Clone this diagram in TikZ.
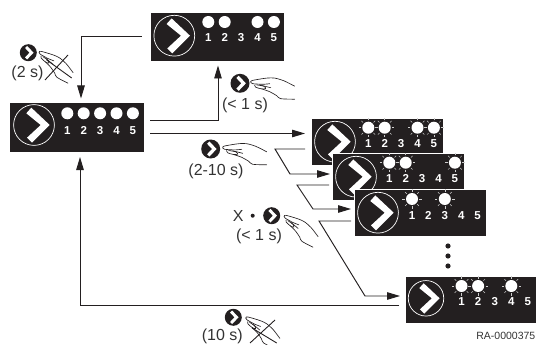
\documentclass[tikz,border=0pt]{standalone}
\usepackage{fontspec}
\setmainfont{Liberation Sans}
\usetikzlibrary{arrows.meta,calc}
\definecolor{ink}{HTML}{231F20}
\definecolor{txt}{HTML}{333333}
\tikzset{
  panelbox/.style={anchor=north west,fill=ink,draw=white,line width=.5pt,inner sep=0pt,outer sep=0pt},
  digit/.style={text=white,font=\fontsize{11.5}{11.5}\selectfont\bfseries,inner sep=0pt,anchor=base},
  led/.style={fill=white,draw=none},
  rayline/.style={draw=white!80!black,line width=.5pt},
  conn/.style={draw=ink,line width=.95pt},
  connarrow/.style={conn,-{Triangle[length=13pt,width=7.5pt]}},
  label/.style={text=txt,font=\fontsize{16}{16}\selectfont,inner sep=0pt},
  btn/.style={circle,fill=ink,draw=none,inner sep=0pt,outer sep=0pt},
  handline/.style={draw=ink,line width=.65pt,line cap=round,line join=round},
  crossline/.style={draw=ink,line width=.9pt}
}
\newcommand\dial[3]{%
  \begin{scope}[shift={(#1,#2)},scale=#3]
    \draw[white,line width=.7pt] (0,0) circle (20.4);
    \fill[white] (-7.7,-11.7) -- (-2.7,-17.3) -- (15.7,0) -- (-2,17.7) -- (-7,12.7) -- (6.7,0) -- cycle;
  \end{scope}}
\newcommand\lamps[6]{%
  \foreach \i in {1,...,5}{%
    \pgfmathsetmacro\px{#1+(\i-1)*#4}%
    \pgfmathsetmacro\py{#3+4}%
    \node[digit] at (\px,\py) {\i};}%
  \foreach \i in {#6}{%
    \pgfmathsetmacro\px{#1+(\i-1)*#4}%
    \fill[led] (\px,#2) circle (6);}%
  \foreach \i in {#5}{%
    \pgfmathsetmacro\px{#1+(\i-1)*#4}%
    \fill[led] (\px,#2) circle (6);
    \foreach \a in {0,45,...,315}{\draw[rayline] (\px,#2) ++(\a:7.4) -- ++(\a:2.3);}}%
}
\newcommand\glyph[3]{%
  \node[btn,minimum size=#3*2pt] (#1) at (#2) {};
  \fill[white] ($(#1)+(-.38*#3,-.55*#3)$) -- ($(#1)+(-.14*#3,-.8*#3)$) -- ($(#1)+(.62*#3,0)$) -- ($(#1)+(-.14*#3,.8*#3)$) -- ($(#1)+(-.38*#3,.55*#3)$) -- ($(#1)+(.14*#3,0)$) -- cycle;
}
\newcommand\hand[4]{%
  \begin{scope}[shift={(#1,#2)},rotate=#3,scale=#4]
    \draw[handline] plot[smooth] coordinates {(.3,1) (0,-.3) (1.5,-1.2) (9,-2.6) (17,-3.7) (24,-3.6) (33,-1) (44,4.5)};
    \draw[handline] plot[smooth] coordinates {(.3,1) (2,2) (12,2.6) (19,2)};
    \draw[handline] plot[smooth] coordinates {(4,3.2) (5,5.5) (11,7.2) (15,6.8) (13,4.5) (6,3.2)};
    \draw[handline] plot[smooth] coordinates {(11,7.2) (19,10) (26,14) (30,17) (44,17.5)};
    \draw[handline] plot[smooth] coordinates {(10,3.5) (16,5) (20,6)};
  \end{scope}}
\begin{document}
\begin{tikzpicture}[x=1pt,y=-1pt]
\useasboundingbox (0,0) rectangle (536,345);

\node[panelbox,minimum width=134pt,minimum height=49pt] (top) at (150,12) {};
\begin{scope}[shift={(top.north west)}]
  \dial{24.3}{23.7}{1}\lamps{58.3}{10}{26}{16.4}{}{1,2,4,5}
\end{scope}
\node[panelbox,minimum width=135pt,minimum height=50pt] (main) at (9,102) {};
\begin{scope}[shift={(main.north west)}]
  \dial{25}{23}{1}\lamps{58.3}{11.3}{28}{16.4}{}{1,2,3,4,5}
\end{scope}
\node[panelbox,minimum width=132.5pt,minimum height=47pt] (s1) at (311,118) {};
\begin{scope}[shift={(s1.north west)}]
  \dial{24}{23.7}{1}\lamps{57.3}{9.7}{25.3}{16.4}{1,2,4,5}{}
\end{scope}
\node[panelbox,minimum width=132.5pt,minimum height=47pt] (s2) at (332,153) {};
\begin{scope}[shift={(s2.north west)}]
  \dial{24}{23.7}{1}\lamps{57.3}{9.7}{25.3}{16.4}{1,2,5}{}
\end{scope}
\node[panelbox,minimum width=132.5pt,minimum height=47pt] (s3) at (354,189) {};
\begin{scope}[shift={(s3.north west)}]
  \dial{24}{23.7}{1}\lamps{58}{10}{26}{16.4}{1,3}{}
\end{scope}
\node[panelbox,minimum width=131pt,minimum height=47pt] (s4) at (405,276) {};
\begin{scope}[shift={(s4.north west)}]
  \dial{21}{22.3}{.87}\lamps{56.5}{10}{25.7}{16.6}{1,2,4}{}
\end{scope}

\fill[ink] (448,246) circle (2.6) (448,256) circle (2.6) (448,266) circle (2.6);

\coordinate (topOut) at ($(top.north west)+(-8.5,24)$);
\coordinate (topBend) at (81,36);
\coordinate (mainIn) at ($(main.north west)+(72,-3.5)$);
\coordinate (mainOutA) at ($(main.north east)+(6,18.5)$);
\coordinate (upBend) at (218,120.5);
\coordinate (topIn) at ($(top.south west)+(68,4.5)$);
\coordinate (mainOutB) at ($(main.north east)+(6,31.5)$);
\coordinate (s1In) at ($(s1.north west)+(-6,15.5)$);
\coordinate (s1Out) at ($(s1.north west)+(-6,31)$);
\coordinate (s1b) at (275,149);
\coordinate (s1c) at (290,174);
\coordinate (s2In) at ($(s2.north west)+(-2,21)$);
\coordinate (s2Out) at ($(s2.north west)+(-3,32)$);
\coordinate (s2b) at (297,185);
\coordinate (s2c) at (313,209);
\coordinate (s3In) at ($(s3.north west)+(-3,20)$);
\coordinate (s3Out) at ($(s3.north west)+(-3,32)$);
\coordinate (s3b) at (319,221);
\coordinate (s3c) at (365,296);
\coordinate (s4In) at ($(s4.north west)+(-5,20)$);
\coordinate (s4Out) at ($(s4.north west)+(-6,29)$);
\coordinate (backBend) at (80,305);
\coordinate (mainBack) at ($(main.south west)+(71,5)$);

\draw[connarrow] (topOut) -- (topBend) -- (mainIn);
\draw[connarrow] (mainOutA) -- (upBend) -- (topIn);
\draw[connarrow] (mainOutB) -- (s1In);
\draw[connarrow] (s1Out) -- (s1b) -- (s1c) -- (s2In);
\draw[connarrow] (s2Out) -- (s2b) -- (s2c) -- (s3In);
\draw[connarrow] (s3Out) -- (s3b) -- (s3c) -- (s4In);
\draw[connarrow] (s4Out) -- (backBend) -- (mainBack);

\glyph{b1}{28.3,52.7}{8.5}
\hand{39.3}{51.7}{-26}{.9}
\draw[crossline] (68,55) -- (45,80) (46.7,60) -- (71.7,78);
\node[label] (t1) at (27.5,73.5) {(2 s)};

\glyph{b2}{240,83.3}{9.5}
\hand{250.7}{81.7}{0}{1}
\node[label] (t2) at (245,105) {(< 1 s)};

\glyph{b3}{210.7,149}{9.5}
\hand{222.7}{147.3}{0}{1}
\node[label] (t3) at (216,171.5) {(2-10 s)};

\node[label] (t4x) at (238.3,215.7) {X};
\fill[ink] (252.7,215.7) circle (2);
\glyph{b4}{271.7,215.7}{8.5}
\hand{284.3}{215.7}{-26}{.9}
\node[label] (t4) at (259,236.7) {(< 1 s)};

\glyph{b5}{233.3,317.3}{8.5}
\hand{246}{317.3}{-26}{.9}
\draw[crossline] (275,320) -- (250,343) (252,328) -- (276.7,343);
\node[label] (t5) at (222.3,336.5) {(10 s)};

\node[text=txt,font=\fontsize{10.5}{10.5}\selectfont,inner sep=0pt,anchor=east] (ra) at (535.5,336) {RA-0000375};
\end{tikzpicture}
\end{document}
